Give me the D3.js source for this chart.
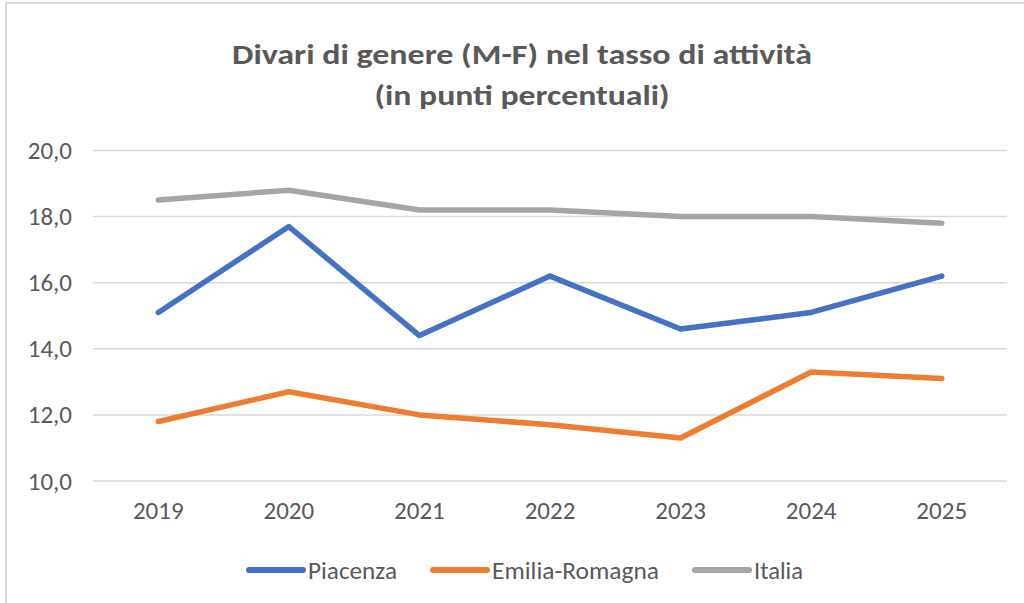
<!DOCTYPE html>
<html>
<head>
<meta charset="utf-8">
<script src="https://cdn.jsdelivr.net/npm/d3@7"></script>
<style>
  body { margin: 0; background: #fff; }
  text { font-family: Carlito, "Open Sans", "Noto Sans", sans-serif; fill: #595959; }
</style>
</head>
<body>
<div id="chart"></div>
<script>
const width = 1024,
      height = 603;

// data
const years = ['2019', '2020', '2021', '2022', '2023', '2024', '2025'];
const piacenza = [15.1, 17.7, 14.4, 16.2, 14.6, 15.1, 16.2];
const emiliaRomagna = [11.8, 12.7, 12.0, 11.7, 11.3, 13.3, 13.1];
const italia = [18.5, 18.8, 18.2, 18.2, 18.0, 18.0, 17.8];
const yTicks = [10, 12, 14, 16, 18, 20];
const seriesNames = ['Piacenza', 'Emilia-Romagna', 'Italia'];
const colors = ['#4472C4', '#ED7D31', '#A5A5A5'];

const series = [piacenza, emiliaRomagna, italia].map((vals, i) => ({
	name: seriesNames[i],
	color: colors[i],
	values: vals
}));

const svg = d3.select('#chart').append('svg')
	.attr('width', width)
	.attr('height', height);

// chart frame
svg.append('path')
	.attr('d', 'M6,' + height + 'V3H' + width)
	.attr('fill', 'none')
	.attr('stroke', '#d9d9d9')
	.attr('stroke-width', 2);

// title
const title = svg.append('text')
	.attr('text-anchor', 'middle')
	.style('font-size', '28px')
	.style('font-weight', 'bold');
title.append('tspan').attr('x', 522).attr('y', 64).attr('textLength', 580).attr('lengthAdjust', 'spacingAndGlyphs')
	.text('Divari di genere (M-F) nel tasso di attività');
title.append('tspan').attr('x', 522).attr('y', 105).attr('textLength', 295).attr('lengthAdjust', 'spacingAndGlyphs')
	.text('(in punti percentuali)');

const x = d3.scaleBand().domain(years).range([93, 1007]);
const y = d3.scaleLinear().domain([10, 20]).range([481, 150.5]);

// gridlines
svg.append('g')
	.selectAll('line')
	.data(yTicks)
	.enter()
	.append('line')
	.attr('x1', 93)
	.attr('x2', 1007)
	.attr('y1', d => y(d))
	.attr('y2', d => y(d))
	.attr('stroke', '#d9d9d9')
	.attr('stroke-width', 1.5);

// y axis
const yAxis = svg.append('g')
	.attr('transform', 'translate(72,0)')
	.call(d3.axisLeft(y).tickValues(yTicks).tickSize(0).tickPadding(0)
		.tickFormat(d => d3.format('.1f')(d).replace('.', ',')));
yAxis.select('.domain').remove();
yAxis.selectAll('text').style('font-size', '25px').attr('fill', '#595959');

// x axis
const xAxis = svg.append('g')
	.attr('transform', 'translate(0,501)')
	.call(d3.axisBottom(x).tickSize(0).tickPadding(0));
xAxis.select('.domain').remove();
xAxis.selectAll('text').style('font-size', '25px').attr('fill', '#595959');

// lines
const line = d3.line()
	.x((d, i) => x(years[i]) + x.bandwidth() / 2)
	.y(d => y(d));

svg.append('g')
	.selectAll('path')
	.data(series)
	.enter()
	.append('path')
	.attr('d', d => line(d.values))
	.attr('fill', 'none')
	.attr('stroke', d => d.color)
	.attr('stroke-width', 5.5)
	.attr('stroke-linecap', 'round')
	.attr('stroke-linejoin', 'round');

// legend
const legendX = [246, 430, 692];
const legendW = [89, 167, 49];
const legend = svg.append('g')
	.selectAll('g')
	.data(series)
	.enter()
	.append('g')
	.attr('transform', (d, i) => 'translate(' + legendX[i] + ',570)');
legend.append('line')
	.attr('x1', 3).attr('x2', 57)
	.attr('stroke', d => d.color)
	.attr('stroke-width', 6)
	.attr('stroke-linecap', 'round');
legend.append('text')
	.attr('x', 62)
	.attr('dy', '0.35em')
	.attr('textLength', (d, i) => legendW[i])
	.attr('lengthAdjust', 'spacingAndGlyphs')
	.style('font-size', '25px')
	.text(d => d.name);
</script>
</body>
</html>
